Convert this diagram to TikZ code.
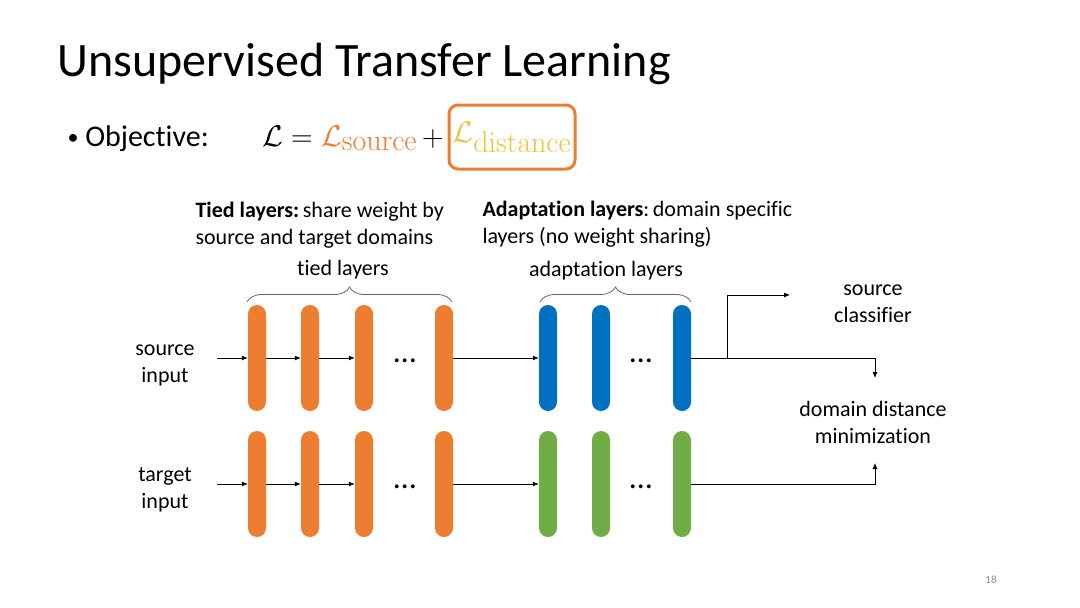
\RequirePackage{fix-cm}
\documentclass[tikz,border=0pt]{standalone}
\usepackage{amsmath}
\usepackage[no-math]{fontspec}
\setmainfont{Carlito}[Ligatures=NoCommon]
\usetikzlibrary{arrows.meta,decorations.pathreplacing}

\definecolor{layorange}{HTML}{ED7D31}
\definecolor{layblue}{HTML}{0070C0}
\definecolor{laygreen}{HTML}{70AD47}
\definecolor{distyellow}{HTML}{E8C53A}

\begin{document}
\begin{tikzpicture}[x=1pt,y=-1pt,
  bar/.style={rounded corners=9pt,minimum width=18pt,minimum height=106pt,inner sep=0pt},
  lbl/.style={font=\fontsize{22}{27}\selectfont,align=center},
  dots/.style={font=\fontsize{32}{32}\selectfont,anchor=base},
  flow/.style={-{Latex[length=6pt,width=5pt]},line width=0.8pt},
  tie/.style={decorate,decoration={brace,amplitude=15pt},black!60,line width=0.8pt}]
  \useasboundingbox[fill=white] (0,0) rectangle (1080,608);

  % heading
  \node[anchor=base west,font=\fontsize{48}{56}\selectfont] (title) at (54,76) {Unsupervised Transfer Learning};
  \node[anchor=base west,font=\fontsize{30}{36}\selectfont] (obj) at (64,146) {{\fontsize{22}{22}\selectfont\raisebox{2pt}{\textbullet}}\ Objective:};
  \node[anchor=base west,inner sep=0pt,font=\fontsize{30}{36}\selectfont] (loss) at (262,146)
    {$\mathcal{L} = {\color{layorange}\mathcal{L}_{\textstyle\mathrm{source}}} \,+$};
  \node[draw=layorange,line width=3pt,rounded corners=9pt,minimum width=126pt,minimum height=64pt,
    inner sep=2pt,font=\fontsize{30}{36}\selectfont] (dist) at (512,137) {$\color{distyellow}\mathcal{L}_{\textstyle\mathrm{distance}}$};

  % notes
  \node[lbl,align=left,anchor=north west] (tiednote) at (192,199) {\textbf{Tied layers:}\,share weight by\\source and target domains};
  \node[lbl,align=left,anchor=north west] (adaptnote) at (479,198) {\textbf{Adaptation layers}:\,domain specific\\layers (no weight sharing)};
  \node[lbl] (tiedlbl) at (343,270) {tied layers};
  \node[lbl] (adaptlbl) at (606,271) {adaptation layers};

  % source row
  \node[lbl] (sin) at (165,365) {source\\input};
  \node[bar,fill=layorange] (s1) at (257,358) {};
  \node[bar,fill=layorange] (s2) at (310,358) {};
  \node[bar,fill=layorange] (s3) at (364,358) {};
  \node[dots] (sdots) at (405,362) {…};
  \node[bar,fill=layorange] (s4) at (444,358) {};
  \node[bar,fill=layblue] (a1) at (548,358) {};
  \node[bar,fill=layblue] (a2) at (601,358) {};
  \node[dots] (adots) at (641,362) {…};
  \node[bar,fill=layblue] (a3) at (682,358) {};

  % target row
  \node[lbl] (tin) at (165,490) {target\\input};
  \node[bar,fill=layorange] (t1) at (257,484) {};
  \node[bar,fill=layorange] (t2) at (310,484) {};
  \node[bar,fill=layorange] (t3) at (364,484) {};
  \node[dots] (tdots) at (405,488) {…};
  \node[bar,fill=layorange] (t4) at (444,484) {};
  \node[bar,fill=laygreen] (g1) at (548,484) {};
  \node[bar,fill=laygreen] (g2) at (601,484) {};
  \node[dots] (gdots) at (641,488) {…};
  \node[bar,fill=laygreen] (g3) at (682,484) {};

  % outputs
  \node[lbl] (cls) at (873,304) {source\\classifier};
  \node[lbl] (ddm) at (873,422) {domain distance\\minimization};
  \node[font=\fontsize{11}{13}\selectfont,text=black!45] (page) at (991,580) {18};

  % braces
  \draw[tie] (247,302) -- (452,302);
  \draw[tie] (540,302) -- (691,302);

  % connectors
  \coordinate (sstart) at (217,358);
  \coordinate (tstart) at (217,484);
  \coordinate (branch) at (727,358);
  \coordinate (clsin) at (790,295);
  \coordinate (dtop) at (875,378);
  \coordinate (dbot) at (875,463);
  \draw[flow] (sstart) -- (s1.west);
  \draw[flow] (s1.east) -- (s2.west);
  \draw[flow] (s2.east) -- (s3.west);
  \draw[flow] (s4.east) -- (a1.west);
  \draw[flow] (a3.east) -| (dtop);
  \draw[flow] (branch) |- (clsin);
  \draw[flow] (tstart) -- (t1.west);
  \draw[flow] (t1.east) -- (t2.west);
  \draw[flow] (t2.east) -- (t3.west);
  \draw[flow] (t4.east) -- (g1.west);
  \draw[flow] (g3.east) -| (dbot);
\end{tikzpicture}
\end{document}
